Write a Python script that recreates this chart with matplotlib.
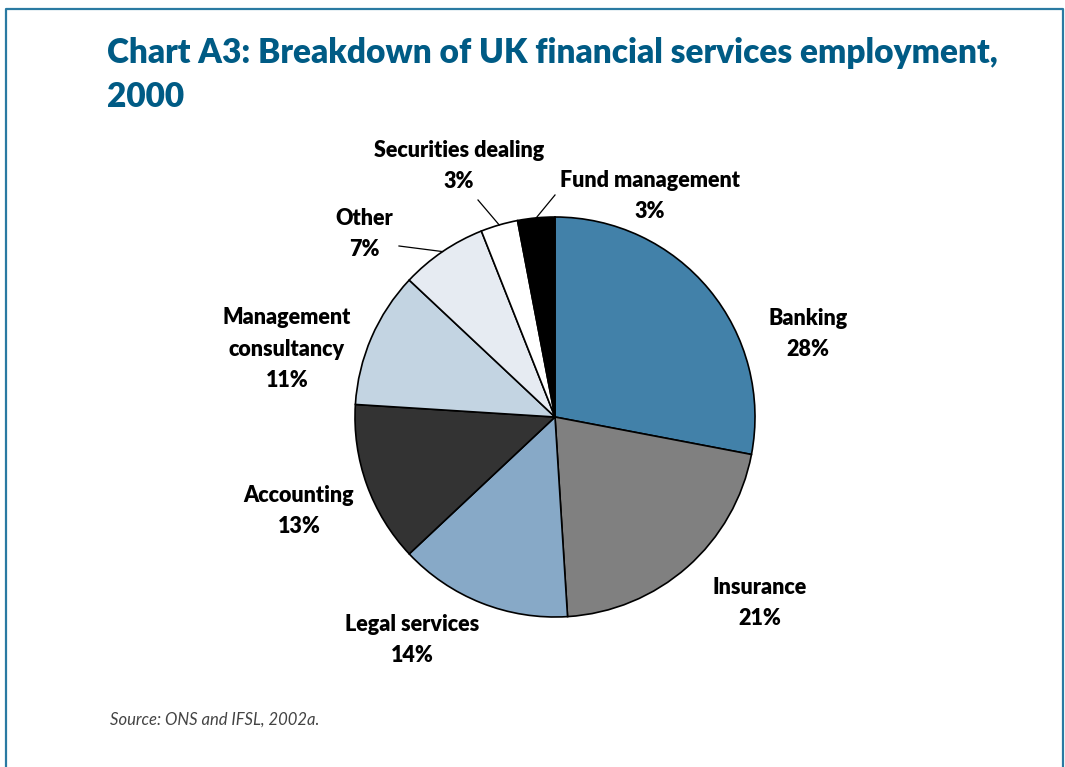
import matplotlib.pyplot as plt
from matplotlib.lines import Line2D
import numpy as np

# UK financial services employment shares, 2000 (%)
sectors = ['Banking', 'Insurance', 'Legal services', 'Accounting',
           'Management\nconsultancy', 'Other', 'Securities dealing',
           'Fund management']
shares = [28, 21, 14, 13, 11, 7, 3, 3]
colours = ['#4281a9', '#808080', '#87a9c7', '#333333',
           '#c3d4e2', '#e6ebf2', '#ffffff', '#000000']

W, H = 1065, 767
CX, CY, R = 555, 417, 200   # pie centre / radius in pixels

def px(x, y):
    # pixel position -> data units of the pie axes
    return ((x - CX) / R, (CY - y) / R)

fig = plt.figure(figsize=(W / 100, H / 100), dpi=100)
ax = fig.add_axes([0, 0, 1, 1])

wedges, _ = ax.pie(shares, colors=colours, startangle=90, counterclock=False,
                   wedgeprops=dict(edgecolor='black', linewidth=1.2))
ax.set_xlim(-CX / R, (W - CX) / R)
ax.set_ylim(-(H - CY) / R, CY / R)
ax.axis('off')

# label positions (pixel centres of the text blocks)
label_pos = {
    'Banking': (808, 334),
    'Insurance': (760, 603),
    'Legal services': (412, 640),
    'Accounting': (299, 511),
    'Management\nconsultancy': (287, 349),
    'Other': (364, 234),
    'Securities dealing': (459, 166),
    'Fund management': (650, 196),
}
# outer ends of leader lines for the thin slices
leader_end = {
    'Other': (399, 246),
    'Securities dealing': (478, 200),
    'Fund management': (555, 195),
}

lab_font = dict(family='Lato', weight='heavy', fontsize=15.5, color='black')
for name, val, w in zip(sectors, shares, wedges):
    x, y = px(*label_pos[name])
    ax.text(x, y, f'{name}\n{val}%', ha='center', va='center',
            linespacing=1.6, **lab_font)
    if name in leader_end:
        ang = np.deg2rad((w.theta1 + w.theta2) / 2)
        ex, ey = px(*leader_end[name])
        ax.plot([np.cos(ang), ex], [np.sin(ang), ey], color='black', lw=0.9)

title_font = dict(ha='left', va='baseline', family='Lato', weight='heavy',
                  fontsize=24, color='#005b85')
fig.text(107 / W, 1 - 63 / H,
         'Chart A3: Breakdown of UK financial services employment,',
         **title_font)
fig.text(107 / W, 1 - 107 / H, '2000', **title_font)

fig.text(110 / W, 1 - 720 / H, 'Source: ONS and IFSL, 2002a.',
         ha='left', va='center', family='Lato', style='italic',
         fontsize=12, color='#444444')

# frame open at the bottom
border = '#2a7aa2'
fig.add_artist(Line2D([6 / W, 6 / W, 1063 / W, 1063 / W],
                      [0, 1 - 9 / H, 1 - 9 / H, 0],
                      transform=fig.transFigure, color=border, lw=1.6))

fig.savefig('out.png', dpi=100)
